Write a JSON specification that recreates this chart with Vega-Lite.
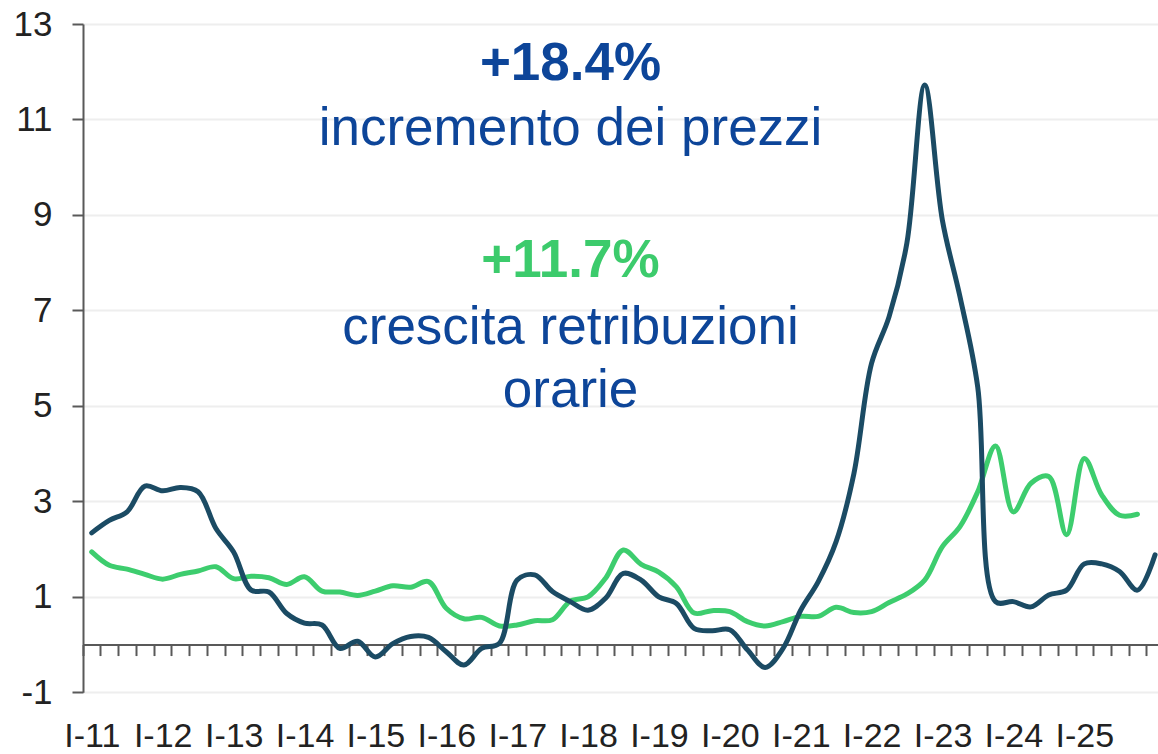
{
  "$schema": "https://vega.github.io/schema/vega-lite/v6.json",
  "width": 1075,
  "height": 668.3,
  "autosize": {"type": "none"},
  "padding": {"left": 83, "top": 24, "right": 0, "bottom": 61.7},
  "background": "white",
  "config": {"view": {"stroke": null}, "font": "Liberation Sans"},
  "data": {
    "values": [
      {"date": "2011-01-01", "prezzi": 2.34, "retribuzioni": 1.94},
      {"date": "2011-04-01", "prezzi": 2.60, "retribuzioni": 1.66},
      {"date": "2011-07-01", "prezzi": 2.78, "retribuzioni": 1.58},
      {"date": "2011-10-01", "prezzi": 3.32, "retribuzioni": 1.47},
      {"date": "2012-01-01", "prezzi": 3.22, "retribuzioni": 1.37},
      {"date": "2012-04-01", "prezzi": 3.29, "retribuzioni": 1.47},
      {"date": "2012-07-01", "prezzi": 3.20, "retribuzioni": 1.54},
      {"date": "2012-10-01", "prezzi": 2.43, "retribuzioni": 1.63},
      {"date": "2013-01-01", "prezzi": 1.94, "retribuzioni": 1.38},
      {"date": "2013-04-01", "prezzi": 1.14, "retribuzioni": 1.43},
      {"date": "2013-07-01", "prezzi": 1.10, "retribuzioni": 1.40},
      {"date": "2013-10-01", "prezzi": 0.65, "retribuzioni": 1.26},
      {"date": "2014-01-01", "prezzi": 0.45, "retribuzioni": 1.42},
      {"date": "2014-04-01", "prezzi": 0.41, "retribuzioni": 1.12},
      {"date": "2014-07-01", "prezzi": -0.08, "retribuzioni": 1.10},
      {"date": "2014-10-01", "prezzi": 0.07, "retribuzioni": 1.03},
      {"date": "2015-01-01", "prezzi": -0.26, "retribuzioni": 1.12},
      {"date": "2015-04-01", "prezzi": 0.02, "retribuzioni": 1.23},
      {"date": "2015-07-01", "prezzi": 0.17, "retribuzioni": 1.20},
      {"date": "2015-10-01", "prezzi": 0.15, "retribuzioni": 1.32},
      {"date": "2016-01-01", "prezzi": -0.15, "retribuzioni": 0.76},
      {"date": "2016-04-01", "prezzi": -0.43, "retribuzioni": 0.54},
      {"date": "2016-07-01", "prezzi": -0.08, "retribuzioni": 0.57},
      {"date": "2016-10-01", "prezzi": 0.03, "retribuzioni": 0.39},
      {"date": "2017-01-01", "prezzi": 1.35, "retribuzioni": 0.41},
      {"date": "2017-04-01", "prezzi": 1.46, "retribuzioni": 0.50},
      {"date": "2017-07-01", "prezzi": 1.11, "retribuzioni": 0.52},
      {"date": "2017-10-01", "prezzi": 0.90, "retribuzioni": 0.91},
      {"date": "2018-01-01", "prezzi": 0.72, "retribuzioni": 1.00},
      {"date": "2018-04-01", "prezzi": 0.97, "retribuzioni": 1.39},
      {"date": "2018-07-01", "prezzi": 1.49, "retribuzioni": 1.98},
      {"date": "2018-10-01", "prezzi": 1.35, "retribuzioni": 1.68},
      {"date": "2019-01-01", "prezzi": 1.00, "retribuzioni": 1.52},
      {"date": "2019-04-01", "prezzi": 0.86, "retribuzioni": 1.21},
      {"date": "2019-07-01", "prezzi": 0.34, "retribuzioni": 0.66},
      {"date": "2019-10-01", "prezzi": 0.29, "retribuzioni": 0.71},
      {"date": "2020-01-01", "prezzi": 0.31, "retribuzioni": 0.69},
      {"date": "2020-04-01", "prezzi": -0.11, "retribuzioni": 0.48},
      {"date": "2020-07-01", "prezzi": -0.48, "retribuzioni": 0.39},
      {"date": "2020-10-01", "prezzi": -0.08, "retribuzioni": 0.48},
      {"date": "2021-01-01", "prezzi": 0.72, "retribuzioni": 0.59},
      {"date": "2021-04-01", "prezzi": 1.32, "retribuzioni": 0.59},
      {"date": "2021-07-01", "prezzi": 2.15, "retribuzioni": 0.78},
      {"date": "2021-10-01", "prezzi": 3.58, "retribuzioni": 0.67},
      {"date": "2022-01-01", "prezzi": 5.89, "retribuzioni": 0.69},
      {"date": "2022-04-01", "prezzi": 6.87, "retribuzioni": 0.88},
      {"date": "2022-07-01", "prezzi": 8.41, "retribuzioni": 1.06},
      {"date": "2022-10-01", "prezzi": 11.72, "retribuzioni": 1.35},
      {"date": "2023-01-01", "prezzi": 8.89, "retribuzioni": 2.05},
      {"date": "2023-04-01", "prezzi": 7.29, "retribuzioni": 2.47},
      {"date": "2023-07-01", "prezzi": 5.40, "retribuzioni": 3.20},
      {"date": "2023-10-01", "prezzi": 0.90, "retribuzioni": 4.16},
      {"date": "2024-01-01", "prezzi": 0.90, "retribuzioni": 2.78},
      {"date": "2024-04-01", "prezzi": 0.79, "retribuzioni": 3.38},
      {"date": "2024-07-01", "prezzi": 1.04, "retribuzioni": 3.52},
      {"date": "2024-10-01", "prezzi": 1.14, "retribuzioni": 2.30},
      {"date": "2025-01-01", "prezzi": 1.69, "retribuzioni": 3.90},
      {"date": "2025-04-01", "prezzi": 1.69, "retribuzioni": 3.13},
      {"date": "2025-07-01", "prezzi": 1.53, "retribuzioni": 2.71},
      {"date": "2025-10-01", "prezzi": 1.14, "retribuzioni": 2.73},
      {"date": "2026-01-01", "prezzi": 1.88}
    ]
  },
  "layer": [
    {
      "mark": {"type": "line", "interpolate": "catmull-rom", "strokeWidth": 5, "color": "#3DCD6E", "strokeCap": "round", "strokeJoin": "round"},
      "encoding": {
        "x": {
          "field": "date", "timeUnit": "utcyearquarter", "type": "temporal", "bandPosition": 0.5,
          "scale": {"domain": [{"year": 2011, "month": 1, "date": 1, "utc": true}, {"year": 2026, "month": 3, "date": 2, "utc": true}]},
          "axis": {
            "title": null, "orient": "bottom", "offset": -47.74,
            "tickCount": {"interval": "month", "step": 3},
            "grid": false,
            "domainColor": "#595959", "domainWidth": 2,
            "tickColor": "#595959", "tickWidth": 2, "tickSize": 11,
            "labelExpr": "utcmonth(datum.value) === 0 && utcyear(datum.value) < 2026 ? 'I-' + utcFormat(datum.value, '%y') : ''",
            "labelOffset": 8.86, "labelPadding": 63.5,
            "labelFontSize": 34, "labelColor": "#222222", "labelFont": "Liberation Sans",
            "labelFlush": false, "labelOverlap": false, "labelBound": false, "labelAlign": "center"
          }
        },
        "y": {
          "field": "retribuzioni", "type": "quantitative",
          "scale": {"domain": [-1, 13], "nice": false, "zero": false},
          "axis": {
            "title": null, "values": [-1, 1, 3, 5, 7, 9, 11, 13],
            "labelExpr": "datum.value < 0 ? '-' + abs(datum.value) : '' + datum.value",
            "grid": true, "gridColor": "#EEEEEE", "gridWidth": 2,
            "domainColor": "#595959", "domainWidth": 2,
            "tickColor": "#595959", "tickWidth": 2, "tickSize": 11,
            "labelFontSize": 35, "labelColor": "#222222", "labelPadding": 20, "labelFont": "Liberation Sans"
          }
        }
      }
    },
    {
      "mark": {"type": "line", "interpolate": "catmull-rom", "strokeWidth": 5, "color": "#1B4B64", "strokeCap": "round", "strokeJoin": "round"},
      "encoding": {
        "x": {"field": "date", "timeUnit": "utcyearquarter", "type": "temporal", "bandPosition": 0.5},
        "y": {"field": "prezzi", "type": "quantitative"}
      }
    },
    {
      "data": {"values": [{"t": "+18.4%"}]},
      "mark": {"type": "text", "font": "Liberation Sans", "fontSize": 53, "fontWeight": "bold", "color": "#0D4599", "align": "center", "baseline": "alphabetic"},
      "encoding": {
        "x": {"datum": {"year": 2017, "month": 11, "date": 17, "utc": true}, "type": "temporal"},
        "y": {"datum": 11.82, "type": "quantitative"},
        "text": {"field": "t"}
      }
    },
    {
      "data": {"values": [{"t": "incremento dei prezzi"}]},
      "mark": {"type": "text", "font": "Liberation Sans", "fontSize": 53, "color": "#0D4599", "align": "center", "baseline": "alphabetic"},
      "encoding": {
        "x": {"datum": {"year": 2017, "month": 11, "date": 17, "utc": true}, "type": "temporal"},
        "y": {"datum": 10.47, "type": "quantitative"},
        "text": {"field": "t"}
      }
    },
    {
      "data": {"values": [{"t": "+11.7%"}]},
      "mark": {"type": "text", "font": "Liberation Sans", "fontSize": 53, "fontWeight": "bold", "color": "#3CCB6C", "align": "center", "baseline": "alphabetic"},
      "encoding": {
        "x": {"datum": {"year": 2017, "month": 11, "date": 17, "utc": true}, "type": "temporal"},
        "y": {"datum": 7.71, "type": "quantitative"},
        "text": {"field": "t"}
      }
    },
    {
      "data": {"values": [{"t": "crescita retribuzioni"}]},
      "mark": {"type": "text", "font": "Liberation Sans", "fontSize": 53, "color": "#0D4599", "align": "center", "baseline": "alphabetic"},
      "encoding": {
        "x": {"datum": {"year": 2017, "month": 11, "date": 17, "utc": true}, "type": "temporal"},
        "y": {"datum": 6.30, "type": "quantitative"},
        "text": {"field": "t"}
      }
    },
    {
      "data": {"values": [{"t": "orarie"}]},
      "mark": {"type": "text", "font": "Liberation Sans", "fontSize": 53, "color": "#0D4599", "align": "center", "baseline": "alphabetic"},
      "encoding": {
        "x": {"datum": {"year": 2017, "month": 11, "date": 17, "utc": true}, "type": "temporal"},
        "y": {"datum": 4.97, "type": "quantitative"},
        "text": {"field": "t"}
      }
    }
  ]
}
